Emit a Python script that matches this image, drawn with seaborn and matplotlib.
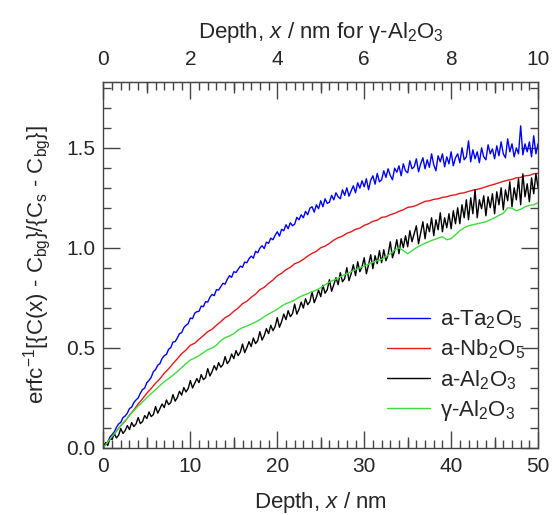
import numpy as np
import pandas as pd
import seaborn as sns
import matplotlib.pyplot as plt
from matplotlib.ticker import MultipleLocator, FixedLocator, NullFormatter

# Depth grids (nm)
depth_fine = np.arange(0, 50.01, 0.25)
depth_coarse = np.arange(0, 50.01, 0.5)

# a-Ta2O5 (0.25 nm step)
ta2o5 = [
    0.000, 0.021, 0.028, 0.052, 0.065, 0.078, 0.101, 0.118, 0.126, 0.150, 0.158, 0.172,
    0.195, 0.202, 0.225, 0.238, 0.248, 0.272, 0.290, 0.298, 0.325, 0.336, 0.352, 0.380,
    0.390, 0.412, 0.420, 0.446, 0.460, 0.466, 0.492, 0.500, 0.528, 0.530, 0.548, 0.570,
    0.575, 0.600, 0.612, 0.620, 0.648, 0.645, 0.672, 0.680, 0.682, 0.708, 0.705, 0.730,
    0.728, 0.752, 0.766, 0.760, 0.790, 0.788, 0.805, 0.822, 0.818, 0.842, 0.860, 0.852,
    0.880, 0.876, 0.892, 0.908, 0.902, 0.928, 0.925, 0.945, 0.958, 0.948, 0.982, 0.975,
    0.998, 1.010, 0.996, 1.028, 1.022, 1.048, 1.040, 1.062, 1.080, 1.058, 1.092, 1.085,
    1.115, 1.095, 1.125, 1.110, 1.118, 1.152, 1.140, 1.165, 1.150, 1.182, 1.165, 1.198,
    1.205, 1.178, 1.215, 1.195, 1.235, 1.205, 1.245, 1.222, 1.228, 1.262, 1.240, 1.275,
    1.255, 1.245, 1.290, 1.262, 1.300, 1.258, 1.285, 1.310, 1.275, 1.325, 1.298, 1.335,
    1.305, 1.345, 1.290, 1.338, 1.360, 1.318, 1.372, 1.330, 1.340, 1.385, 1.352, 1.395,
    1.362, 1.340, 1.398, 1.378, 1.410, 1.360, 1.420, 1.385, 1.375, 1.435, 1.395, 1.405,
    1.445, 1.380, 1.420, 1.450, 1.395, 1.440, 1.402, 1.470, 1.415, 1.385, 1.460, 1.430,
    1.470, 1.405, 1.455, 1.420, 1.480, 1.410, 1.450, 1.470, 1.425, 1.500, 1.440, 1.455,
    1.535, 1.430, 1.490, 1.445, 1.480, 1.425, 1.500, 1.455, 1.440, 1.515, 1.470, 1.495,
    1.445, 1.510, 1.460, 1.530, 1.470, 1.450, 1.545, 1.480, 1.520, 1.455, 1.500, 1.470,
    1.610, 1.465, 1.520, 1.480, 1.530, 1.455, 1.560, 1.470, 1.520,
]

# a-Nb2O5 (0.5 nm step)
nb2o5 = [
    0.000, 0.028, 0.052, 0.082, 0.110, 0.132, 0.162, 0.188, 0.218, 0.244,
    0.272, 0.296, 0.322, 0.344, 0.372, 0.394, 0.420, 0.444, 0.470, 0.488,
    0.512, 0.522, 0.542, 0.560, 0.580, 0.592, 0.612, 0.630, 0.650, 0.662,
    0.682, 0.698, 0.720, 0.732, 0.752, 0.768, 0.790, 0.802, 0.822, 0.838,
    0.860, 0.872, 0.890, 0.902, 0.920, 0.928, 0.942, 0.958, 0.972, 0.982,
    1.000, 1.008, 1.022, 1.038, 1.050, 1.058, 1.072, 1.080, 1.092, 1.098,
    1.112, 1.120, 1.132, 1.138, 1.152, 1.155, 1.165, 1.172, 1.182, 1.190,
    1.202, 1.205, 1.212, 1.222, 1.232, 1.235, 1.242, 1.245, 1.252, 1.255,
    1.262, 1.265, 1.272, 1.275, 1.282, 1.288, 1.292, 1.298, 1.305, 1.312,
    1.318, 1.325, 1.332, 1.338, 1.342, 1.350, 1.352, 1.360, 1.362, 1.370,
    1.372,
]

# a-Al2O3 (0.25 nm step)
a_al2o3 = [
    0.000, 0.025, 0.010, 0.045, 0.040, 0.070, 0.048, 0.062, 0.095, 0.070, 0.085, 0.110,
    0.090, 0.125, 0.105, 0.118, 0.150, 0.120, 0.130, 0.160, 0.145, 0.178, 0.155, 0.165,
    0.205, 0.172, 0.195, 0.218, 0.200, 0.238, 0.215, 0.225, 0.265, 0.232, 0.250, 0.282,
    0.262, 0.300, 0.278, 0.295, 0.335, 0.298, 0.322, 0.345, 0.325, 0.365, 0.340, 0.350,
    0.395, 0.358, 0.380, 0.410, 0.388, 0.425, 0.402, 0.415, 0.455, 0.420, 0.435, 0.468,
    0.445, 0.485, 0.460, 0.478, 0.518, 0.475, 0.500, 0.530, 0.505, 0.548, 0.520, 0.535,
    0.580, 0.538, 0.560, 0.595, 0.570, 0.612, 0.585, 0.605, 0.650, 0.602, 0.630, 0.668,
    0.640, 0.685, 0.655, 0.670, 0.718, 0.668, 0.692, 0.728, 0.698, 0.745, 0.715, 0.730,
    0.780, 0.725, 0.752, 0.788, 0.755, 0.812, 0.772, 0.790, 0.840, 0.782, 0.815, 0.850,
    0.815, 0.875, 0.830, 0.845, 0.900, 0.835, 0.870, 0.915, 0.860, 0.930, 0.880, 0.905,
    0.950, 0.870, 0.915, 0.965, 0.895, 0.960, 0.920, 0.985, 0.925, 0.990, 0.935, 0.965,
    1.030, 0.950, 0.985, 1.040, 0.970, 1.045, 1.000, 1.060, 1.005, 1.085, 1.030, 1.070,
    1.110, 1.020, 1.075, 1.130, 1.045, 1.120, 1.080, 1.150, 1.060, 1.140, 1.090, 1.175,
    1.080, 1.150, 1.100, 1.170, 1.095, 1.185, 1.120, 1.200, 1.120, 1.215, 1.150, 1.240,
    1.140, 1.250, 1.170, 1.290, 1.150, 1.240, 1.195, 1.260, 1.160, 1.255, 1.200, 1.270,
    1.170, 1.280, 1.215, 1.300, 1.190, 1.290, 1.235, 1.330, 1.205, 1.300, 1.240, 1.345,
    1.215, 1.370, 1.255, 1.320, 1.230, 1.350, 1.270, 1.370, 1.300,
]

# gamma-Al2O3 (0.5 nm step on the bottom scale)
g_al2o3 = [
    0.000, 0.028, 0.055, 0.082, 0.110, 0.135, 0.160, 0.185, 0.208, 0.228,
    0.250, 0.270, 0.290, 0.310, 0.330, 0.345, 0.362, 0.380, 0.400, 0.420,
    0.438, 0.448, 0.460, 0.475, 0.490, 0.498, 0.512, 0.535, 0.550, 0.558,
    0.570, 0.588, 0.600, 0.608, 0.618, 0.628, 0.640, 0.655, 0.668, 0.680,
    0.692, 0.708, 0.720, 0.728, 0.738, 0.752, 0.762, 0.770, 0.780, 0.788,
    0.800, 0.815, 0.828, 0.838, 0.848, 0.860, 0.870, 0.880, 0.890, 0.900,
    0.908, 0.918, 0.928, 0.935, 0.942, 0.955, 0.970, 0.988, 1.000, 0.985,
    0.970, 0.985, 1.000, 1.012, 1.022, 1.032, 1.040, 1.048, 1.055, 1.040,
    1.045, 1.065, 1.085, 1.100, 1.110, 1.115, 1.120, 1.125, 1.130, 1.140,
    1.150, 1.162, 1.172, 1.200, 1.198, 1.185, 1.192, 1.205, 1.212, 1.215,
    1.225,
]

labels = ["a-Ta$_2$O$_5$", "a-Nb$_2$O$_5$", "a-Al$_2$O$_3$", "γ-Al$_2$O$_3$"]
colors = ["#0000ff", "#e41a1a", "#000000", "#3fdc3f"]
top_ticks = [0, 2, 4, 6, 8, 10]

df = pd.concat([
    pd.DataFrame({"depth": depth_fine, "value": ta2o5, "sample": labels[0]}),
    pd.DataFrame({"depth": depth_coarse, "value": nb2o5, "sample": labels[1]}),
    pd.DataFrame({"depth": depth_fine, "value": a_al2o3, "sample": labels[2]}),
    pd.DataFrame({"depth": depth_coarse, "value": g_al2o3, "sample": labels[3]}),
])

sns.set_style("ticks")
plt.rcParams["font.family"] = ["Liberation Sans", "DejaVu Sans"]
plt.rcParams["mathtext.fontset"] = "custom"
plt.rcParams["mathtext.rm"] = "Liberation Sans"
plt.rcParams["mathtext.it"] = "Liberation Sans:italic"

edge = "#444444"
tick_fs = 15
label_fs = 16
fig = plt.figure(figsize=(5.53, 5.15), dpi=100)
ax = fig.add_axes([0.187, 0.131, 0.786, 0.710])

sns.lineplot(data=df, x="depth", y="value", hue="sample", hue_order=labels,
             palette=colors, estimator=None, sort=False, linewidth=1.0, ax=ax)

ax.set_xlim(0, 50)
ax.set_ylim(0, 1.83)
ax.set_xlabel("Depth, $x$ / nm", fontsize=label_fs, labelpad=10)
ax.set_ylabel("erfc$^{-1}$[{C(x) - C$_{\\mathrm{bg}}$}/{C$_\\mathrm{s}$ - C$_{\\mathrm{bg}}$}]",
              fontsize=label_fs, labelpad=9)

ax.xaxis.set_major_locator(MultipleLocator(10))
ax.xaxis.set_minor_locator(MultipleLocator(1))
ax.yaxis.set_major_locator(MultipleLocator(0.5))
ax.yaxis.set_minor_locator(MultipleLocator(0.1))
ax.tick_params(which="both", direction="in", right=True, color=edge, width=1)
ax.tick_params(which="major", length=12, labelsize=tick_fs)
ax.tick_params(which="minor", length=5.5)
ax.tick_params(axis="x", which="major", pad=7)
ax.tick_params(axis="y", which="major", pad=6)
for s in ax.spines.values():
    s.set_color(edge)
    s.set_linewidth(1)

# medium ticks at 5, 15, 25 ... on the bottom axis
mid_bot = ax.secondary_xaxis("bottom")
mid_bot.xaxis.set_major_locator(FixedLocator([5, 15, 25, 35, 45]))
mid_bot.xaxis.set_major_formatter(NullFormatter())
mid_bot.tick_params(direction="in", length=8, color=edge, width=1)
mid_bot.spines["bottom"].set_visible(False)

top = ax.secondary_xaxis("top", functions=(lambda x: x / 5, lambda x: x * 5))
top.xaxis.set_major_locator(FixedLocator(top_ticks))
top.xaxis.set_minor_locator(MultipleLocator(0.2))
top.tick_params(which="both", direction="in", color=edge, width=1)
top.tick_params(which="major", length=12, labelsize=tick_fs, pad=9)
top.tick_params(which="minor", length=5.5)
top.spines["top"].set_color(edge)
top.set_xlabel("Depth, $x$ / nm for γ-Al$_2$O$_3$", fontsize=label_fs, labelpad=9)

mid_top = ax.secondary_xaxis("top", functions=(lambda x: x / 5, lambda x: x * 5))
mid_top.xaxis.set_major_locator(FixedLocator([1, 3, 5, 7, 9]))
mid_top.xaxis.set_major_formatter(NullFormatter())
mid_top.tick_params(direction="in", length=8, color=edge, width=1)
mid_top.spines["top"].set_visible(False)

ax.legend(loc="lower right", bbox_to_anchor=(1.0, 0.03), frameon=False, fontsize=label_fs,
          handlelength=1.9, handletextpad=0.45, labelspacing=0.3, borderaxespad=0.2,
          title=None)

fig.savefig("out.png", dpi=100)
